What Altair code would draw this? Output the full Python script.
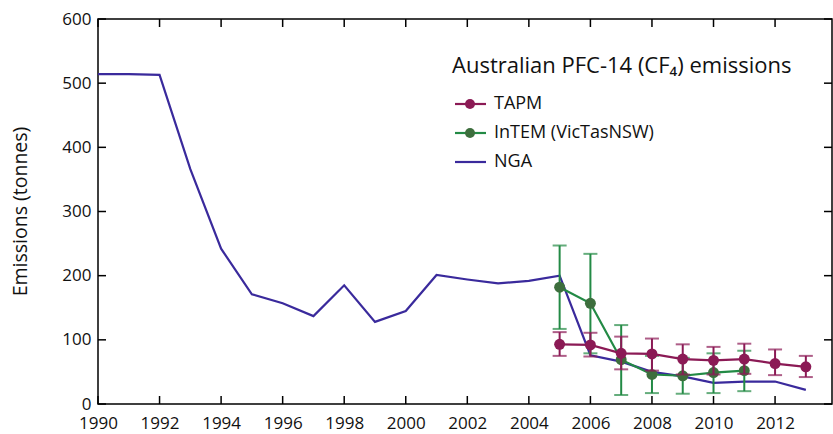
import altair as alt
import pandas as pd

# NGA inventory, 1990-2013 (tonnes)
nga_years = list(range(1990, 2014))
nga_values = [514, 514, 513, 366, 242, 171, 157, 137, 185, 128, 145, 201,
              194, 188, 192, 200, 76, 66, 50, 43, 33, 35, 35, 22]

# TAPM inversion estimates with uncertainty range
tapm_years = list(range(2005, 2014))
tapm_values = [93, 92, 79, 78, 70, 68, 70, 63, 58]
tapm_low = [75, 74, 54, 52, 46, 46, 47, 45, 42]
tapm_high = [112, 111, 105, 102, 93, 89, 94, 85, 75]

# InTEM (VicTasNSW) estimates with uncertainty range
intem_years = list(range(2005, 2012))
intem_values = [182, 157, 69, 46, 44, 49, 52]
intem_low = [117, 79, 14, 17, 16, 17, 20]
intem_high = [247, 234, 123, 75, 72, 79, 83]

x_ticks = list(range(1990, 2013, 2))
y_ticks = list(range(0, 601, 100))

series_names = ["TAPM", "InTEM (VicTasNSW)", "NGA"]
line_colors = ["#8b1a55", "#238a45", "#3a2a9c"]
dot_colors = ["#8b1a55", "#3d6e3d", None]

FONT = "Open Sans"
W, H = 734, 385
X_DOMAIN = [1990, 2013.85]

xs = alt.Scale(domain=X_DOMAIN, nice=False, zero=False)
ys = alt.Scale(domain=[0, 600], nice=False)

nga = pd.DataFrame({"year": nga_years, "value": nga_values})
tapm = pd.DataFrame({"year": tapm_years, "value": tapm_values,
                     "lo": tapm_low, "hi": tapm_high})
intem = pd.DataFrame({"year": intem_years, "value": intem_values,
                      "lo": intem_low, "hi": intem_high})

x_enc = alt.X("year:Q", scale=xs,
              axis=alt.Axis(values=x_ticks, format="d", title=None, grid=False,
                            domain=False, ticks=False, labelPadding=11, labelFlush=False,
                            labelOverlap=False,
                            labelFontSize=17, labelFont=FONT, labelColor="#111")
              )
y_enc = alt.Y("value:Q", scale=ys,
              axis=alt.Axis(values=y_ticks, title="Emissions (tonnes)", grid=False,
                            domain=False, ticks=False, labelPadding=7, labelFlush=False,
                            labelOverlap=False,
                            labelFontSize=17, labelFont=FONT, labelColor="#111",
                            titleFont=FONT, titleFontSize=19.5, titleFontWeight="normal",
                            titleColor="#111", titleX=-78, titleY=192,
                            titleAlign="center", titleBaseline="middle", titleAngle=-90))


def series_layers(df, line_color, dot_color):
    base = alt.Chart(df)
    bars = base.mark_rule(color=line_color, strokeWidth=2).encode(
        x=alt.X("year:Q", scale=xs), y=alt.Y("lo:Q", scale=ys), y2="hi:Q")
    cap_lo = base.mark_tick(color=line_color, orient="horizontal", size=14, thickness=2).encode(
        x=alt.X("year:Q", scale=xs), y=alt.Y("lo:Q", scale=ys))
    cap_hi = base.mark_tick(color=line_color, orient="horizontal", size=14, thickness=2).encode(
        x=alt.X("year:Q", scale=xs), y=alt.Y("hi:Q", scale=ys))
    line = base.mark_line(color=line_color, strokeWidth=2.2).encode(
        x=alt.X("year:Q", scale=xs), y=alt.Y("value:Q", scale=ys))
    dots = base.mark_circle(color=dot_color, opacity=1, size=120).encode(
        x=alt.X("year:Q", scale=xs), y=alt.Y("value:Q", scale=ys))
    return [bars, cap_lo, cap_hi, line, dots]


nga_line = alt.Chart(nga).mark_line(color=line_colors[2], strokeWidth=2.2).encode(
    x=x_enc, y=y_enc)

intem_layers = series_layers(intem, line_colors[1], dot_colors[1])
tapm_layers = series_layers(tapm, line_colors[0], dot_colors[0])

# inward tick marks on all four sides of the frame
TICK = 8
xt = pd.DataFrame({"year": x_ticks})
yt = pd.DataFrame({"value": y_ticks})
tick_style = dict(color="#000", strokeWidth=1.5)
bottom_ticks = alt.Chart(xt).mark_rule(**tick_style).encode(
    x=alt.X("year:Q", scale=xs), y=alt.value(H), y2=alt.value(H - TICK))
top_ticks = alt.Chart(xt).mark_rule(**tick_style).encode(
    x=alt.X("year:Q", scale=xs), y=alt.value(0), y2=alt.value(TICK))
left_ticks = alt.Chart(yt).mark_rule(**tick_style).encode(
    y=alt.Y("value:Q", scale=ys), x=alt.value(0), x2=alt.value(TICK))
right_ticks = alt.Chart(yt).mark_rule(**tick_style).encode(
    y=alt.Y("value:Q", scale=ys), x=alt.value(W), x2=alt.value(W - TICK))

# title and legend block
title = alt.Chart(pd.DataFrame({"t": ["Australian PFC-14 (CF\u2084) emissions"]})).mark_text(
    align="left", baseline="middle", font=FONT, fontSize=22, color="#111").encode(
    x=alt.value(354), y=alt.value(47), text="t:N")

legend_layers = []
legend_rows = [85, 114, 143]
for name, lc, dc, ly in zip(series_names, line_colors, dot_colors, legend_rows):
    d = pd.DataFrame({"name": [name]})
    legend_layers.append(alt.Chart(d).mark_rule(color=lc, strokeWidth=2.2).encode(
        x=alt.value(357), x2=alt.value(388), y=alt.value(ly)))
    if dc:
        legend_layers.append(alt.Chart(d).mark_circle(color=dc, opacity=1, size=100).encode(
            x=alt.value(372), y=alt.value(ly)))
    legend_layers.append(alt.Chart(d).mark_text(
        align="left", baseline="middle", font=FONT, fontSize=18, color="#111").encode(
        x=alt.value(396), y=alt.value(ly), text="name:N"))

chart = alt.layer(
    nga_line, *intem_layers, *tapm_layers,
    bottom_ticks, top_ticks, left_ticks, right_ticks,
    title, *legend_layers
).properties(
    width=W, height=H,
    autosize=alt.AutoSizeParams(type="none"),
    padding={"left": 98, "top": 19, "right": 1, "bottom": 30},
    background="white",
).configure_view(stroke="#000", strokeWidth=1.5)

chart.save("out.html", embed_options={"renderer": "svg", "actions": False})
